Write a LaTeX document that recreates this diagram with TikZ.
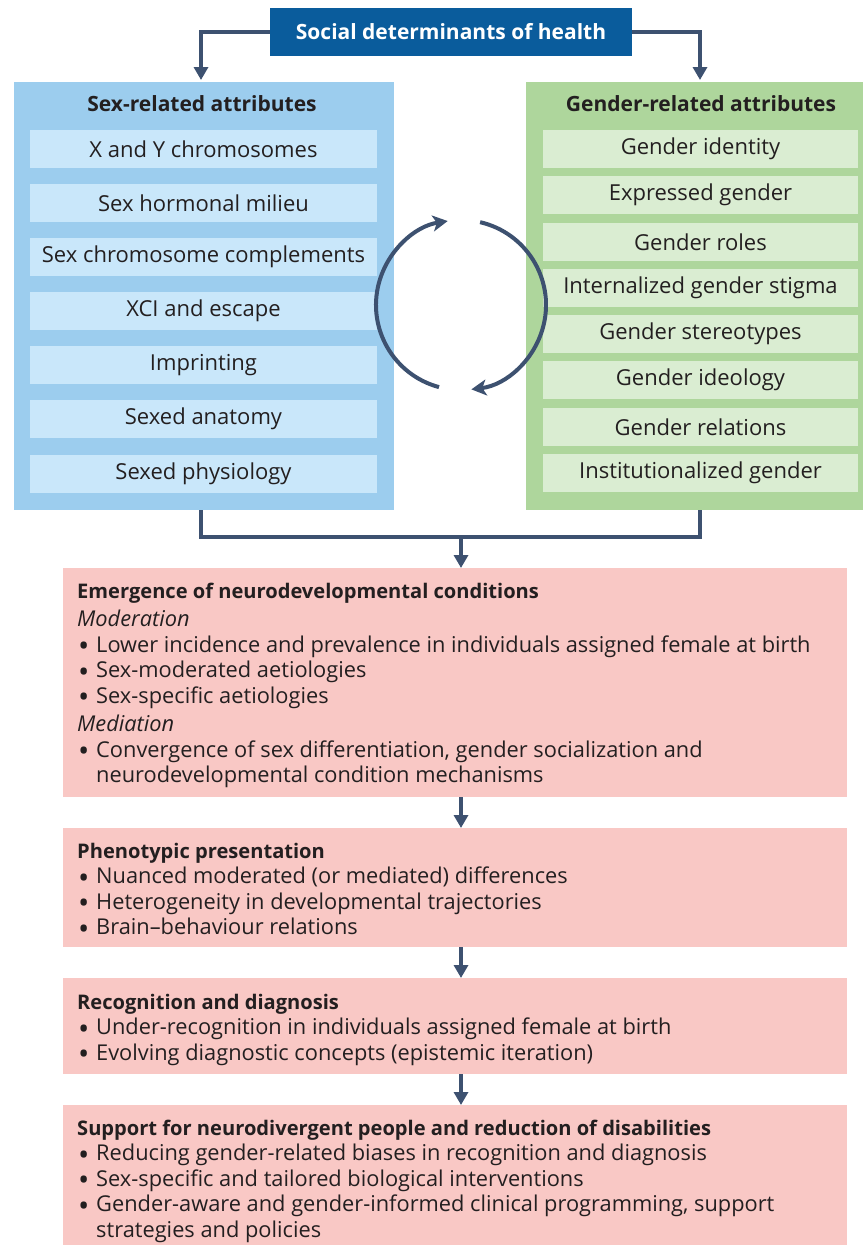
\documentclass[tikz,border=0pt]{standalone}
\usepackage{fontspec}
\setmainfont{Open Sans}
\usetikzlibrary{arrows.meta}
\definecolor{topblue}{HTML}{0A5C9C}
\definecolor{panelblue}{HTML}{9CCDEE}
\definecolor{itemblue}{HTML}{C9E7FA}
\definecolor{panelgreen}{HTML}{AED69C}
\definecolor{itemgreen}{HTML}{DAEDD2}
\definecolor{pinkc}{HTML}{F9C8C5}
\definecolor{arrowc}{HTML}{3D5170}
\definecolor{txt}{HTML}{231F20}
\newcommand\itfont{\fontsize{22}{24}\selectfont}
\newcommand\bxfont{\fontsize{21.8}{25.5}\selectfont}
\newcommand\ttlfont{\fontsize{21}{24}\selectfont\bfseries}
\newcommand\bxttl[1]{{\fontsize{20.1}{25.5}\selectfont\bfseries #1}}
\newcommand\bitem[1]{\par\noindent\hangindent=19pt\hangafter=1\makebox[19pt][l]{\hspace{1pt}\raisebox{-4.5pt}[0pt][0pt]{\fontsize{30}{0}\selectfont•}}#1\par}
\newcommand\subhd[1]{\par\vspace{3pt}\noindent\textit{#1}\par}
\newcommand\brk{\hfill\break}
\begin{document}
\begin{tikzpicture}[x=1pt,y=-1pt,
  panel/.style={draw=none, inner sep=0pt},
  ttl/.style={font=\ttlfont, text=txt, inner sep=0pt},
  itemL/.style={fill=itemblue, minimum width=347pt, minimum height=38pt, inner sep=0pt, font=\itfont, text=txt},
  itemR/.style={fill=itemgreen, minimum width=315pt, minimum height=38pt, inner sep=0pt, font=\itfont, text=txt},
  pinkbox/.style={fill=pinkc, draw=none, inner xsep=14pt, inner ysep=0pt, anchor=north west, font=\bxfont, text=txt},
  conn/.style={draw=arrowc, line width=4pt},
  arr/.style={conn, -{Triangle[width=14pt,length=13pt]}},
  cyc/.style={draw=arrowc, line width=4pt, -{Stealth[width=16pt,length=15pt,inset=4pt]}}]
\useasboundingbox (0,0) rectangle (863,1245);

% top
\node[fill=topblue, minimum width=362pt, minimum height=48pt, inner sep=0pt, text=white, font=\ttlfont] (top) at (451,32) {Social determinants of health};

% panels
\node[panel, fill=panelblue, minimum width=380pt, minimum height=428pt] (sex) at (204,296) {};
\node[panel, fill=panelgreen, minimum width=337pt, minimum height=428pt] (gen) at (694.5,296) {};
\node[ttl] (sext) at (202,104) {Sex-related attributes};
\node[ttl] (gent) at (701,104) {Gender-related attributes};

\node[itemL] (s1) at (203.5,149) {X and Y chromosomes};
\node[itemL] (s2) at (203.5,203) {Sex hormonal milieu};
\node[itemL] (s3) at (203.5,257) {Sex chromosome complements};
\node[itemL] (s4) at (203.5,311) {XCI and escape};
\node[itemL] (s5) at (203.5,365) {Imprinting};
\node[itemL] (s6) at (203.5,419) {Sexed anatomy};
\node[itemL] (s7) at (203.5,474) {Sexed physiology};

\node[itemR] (g1) at (700.5,149) {Gender identity};
\node[itemR] (g2) at (700.5,195) {Expressed gender};
\node[itemR] (g3) at (700.5,242) {Gender roles};
\node[itemR] (g4) at (700.5,288) {Internalized gender stigma};
\node[itemR] (g5) at (700.5,334) {Gender stereotypes};
\node[itemR] (g6) at (700.5,380) {Gender ideology};
\node[itemR] (g7) at (700.5,427) {Gender relations};
\node[itemR] (g8) at (700.5,473) {Institutionalized gender};

% top connectors
\coordinate (sa) at (201,80);
\coordinate (ga) at (700,80);
\draw[arr] (top.west) -| (sa);
\draw[arr] (top.east) -| (ga);

% cycle
\coordinate (cc) at (461,305);
\draw[cyc] ([shift={(255:85pt)}]cc) arc[start angle=255, end angle=99, radius=85pt];
\draw[cyc] ([shift={(77:85pt)}]cc) arc[start angle=77, end angle=-83, radius=85pt];

% pink boxes
\node[pinkbox] (e1) at (63,568) {\parbox[t][229pt][t]{756pt}{\raggedright
\rule{0pt}{30pt}\bxttl{Emergence of neurodevelopmental conditions}
\subhd{Moderation}
\bitem{Lower incidence and prevalence in individuals assigned female at birth}
\bitem{Sex-moderated aetiologies}
\bitem{Sex-specific aetiologies}
\subhd{Mediation}
\bitem{Convergence of sex differentiation, gender socialization and\brk neurodevelopmental condition mechanisms}}};

\node[pinkbox] (e2) at (63,828) {\parbox[t][119pt][t]{756pt}{\raggedright
\rule{0pt}{30pt}\bxttl{Phenotypic presentation}
\bitem{Nuanced moderated (or mediated) differences}
\bitem{Heterogeneity in developmental trajectories}
\bitem{Brain--behaviour relations}}};

\node[pinkbox] (e3) at (63,978) {\parbox[t][96pt][t]{756pt}{\raggedright
\rule{0pt}{31pt}\bxttl{Recognition and diagnosis}
\bitem{Under-recognition in individuals assigned female at birth}
\bitem{Evolving diagnostic concepts (epistemic iteration)}}};

\node[pinkbox] (e4) at (63,1105) {\parbox[t][140pt][t]{756pt}{\raggedright
\rule{0pt}{30pt}\bxttl{Support for neurodivergent people and reduction of disabilities}
\bitem{Reducing gender-related biases in recognition and diagnosis}
\bitem{Sex-specific and tailored biological interventions}
\bitem{Gender-aware and gender-informed clinical programming, support\brk strategies and policies}}};

% bottom connectors
\coordinate (sb) at (201,510);
\coordinate (gb) at (700,510);
\coordinate (mid) at (461,537);
\draw[conn] (sb) |- (mid) -| (gb);
\draw[arr] (mid) -- (mid |- e1.north);
\draw[arr] (e1.south -| mid) -- (e2.north -| mid);
\draw[arr] (e2.south -| mid) -- (e3.north -| mid);
\draw[arr] (e3.south -| mid) -- (e4.north -| mid);
\end{tikzpicture}
\end{document}
